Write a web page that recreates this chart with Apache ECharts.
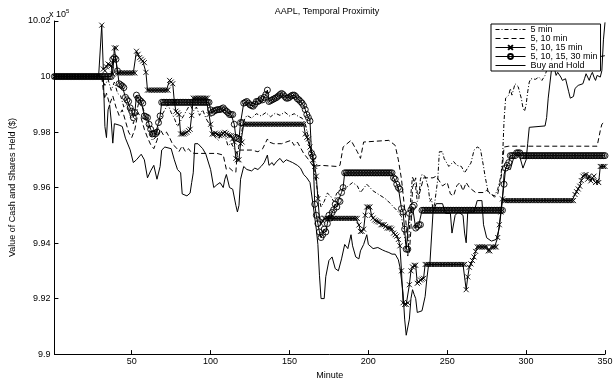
<!DOCTYPE html>
<html>
<head>
<meta charset="utf-8">
<title>AAPL, Temporal Proximity</title>
<script src="https://cdn.jsdelivr.net/npm/echarts@6.0.0/dist/echarts.min.js"></script>
<style>
  html, body { margin: 0; padding: 0; background: #fff; }
  #chart { width: 616px; height: 385px; }
</style>
</head>
<body>
<div id="chart"></div>
<script>
// values are in units of 10^5 dollars, as on the y axis
const xTicks = [50, 100, 150, 200, 250, 300, 350];

// "5 min" (dash-dot) and "5, 10 min" (dashed): [minute, value] vertices
const fiveMin = [
  [1,10],[31,10],[32,9.998],[33,9.9968],[35,9.999],[37,9.995],[39,9.998],[41,9.994],[43,9.993],[45,9.989],
  [47,9.990],[49,9.986],[51,9.983],[53,9.987],[55,9.992],[57,9.989],[59,9.985],[61,9.981],[63,9.977],[65,9.978],
  [67,9.982],[69,9.986],[71,9.988],[73,9.990],[75,9.987],[77,9.985],[79,9.982],[81,9.984],[83,9.986],[85,9.988],
  [87,9.990],[89,9.9875],[91,9.989],[93,9.986],[95,9.988],[97,9.985],[99,9.983],[101,9.980],[103,9.978],[105,9.977],
  [107,9.980],[109,9.979],[111,9.975],[113,9.976],[115,9.974],[117,9.972],[119,9.978],[121,9.984],[123,9.986],[126,9.985],
  [129,9.9866],[132,9.9858],[135,9.987],[138,9.9855],[141,9.9868],[144,9.986],[147,9.9872],[150,9.9858],[153,9.9866],[156,9.9855],
  [158,9.985],[160,9.983],[162,9.978],[164,9.972],[166,9.965],[168,9.958],[170,9.953],[172,9.955],[174,9.958],[176,9.957],
  [178,9.955],[180,9.958],[182,9.959],[186,9.960],[190,9.9618],[193,9.9606],[195,9.9582],[199,9.9612],[203,9.9588],[208,9.957],
  [211,9.9559],[214,9.9542],[216,9.953],[219,9.9512],[221,9.9495],[223,9.9419],[224,9.9395],[225,9.935],[226,9.945],[227,9.958],
  [228,9.964],[229,9.9647],[230,9.960],[231,9.955],[232,9.956],[233,9.963],[234,9.9647],[236,9.964],[237,9.9635],[238,9.960],
  [239,9.955],[240,9.956],[241,9.952],[242,9.9542],[244,9.963],[245,9.9729],[247,9.9729],[248,9.9705],[251,9.9676],[254,9.9694],
  [256,9.968],[259,9.9676],[261,9.9653],[262,9.965],[264,9.968],[265,9.9688],[267,9.9735],[269,9.9746],[271,9.974],[273,9.9676],
  [274,9.964],[276,9.9582],[278,9.9575],[280,9.957],[282,9.9594],[284,9.9641],[285,9.970],[286,9.984],[287,9.9922],[289,9.9933],
  [290,9.9957],[291,9.9933],[293,9.9974],[295,9.9963],[297,9.992],[298,9.9887],[299,9.9875],[300,9.9898],[301,9.9945],[302,9.998],
  [303,9.9992],[306,9.999],[308,9.9998],[310,9.9986],[312,10.0004],[314,10.004],[318,10.0055],[325,10.0065],[335,10.006],[345,10.007],
  [350,10.0075]
];

const fiveTenMin = [
  [1,10],[31,10],[32,9.995],[33,9.992],[34,9.994],[36,9.990],[38,9.993],[40,9.989],[42,9.986],[44,9.988],
  [46,9.984],[48,9.980],[50,9.978],[52,9.981],[54,9.987],[56,9.985],[58,9.981],[60,9.978],[62,9.9755],[64,9.974],
  [66,9.977],[68,9.981],[70,9.979],[72,9.980],[74,9.978],[76,9.9755],[78,9.9745],[80,9.973],[82,9.975],[84,9.973],
  [86,9.974],[88,9.9725],[90,9.9723],[104,9.9723],[108,9.9717],[110,9.9665],[112,9.967],[114,9.966],[116,9.9655],[117,9.9735],
  [126,9.9735],[130,9.9729],[133,9.974],[136,9.9775],[137,9.9764],[140,9.9758],[145,9.9758],[151,9.977],[153,9.9752],[155,9.9764],
  [159,9.9723],[163,9.9694],[165,9.9676],[170,9.968],[180,9.9676],[182,9.968],[184,9.9746],[189,9.977],[193,9.9729],[195,9.9705],
  [197,9.9764],[198,9.977],[213,9.977],[217,9.9752],[219,9.970],[221,9.963],[223,9.9524],[225,9.9407],[226,9.9366],[227,9.945],
  [228,9.960],[230,9.9635],[231,9.9582],[232,9.957],[235,9.9635],[241,9.9635],[243,9.9641],[247,9.9606],[250,9.9618],[252,9.9577],
  [254,9.957],[256,9.9606],[258,9.9618],[260,9.9588],[262,9.9618],[264,9.960],[268,9.9582],[273,9.9582],[275,9.959],[278,9.9577],
  [280,9.9565],[282,9.9577],[284,9.963],[285,9.9676],[286,9.9746],[287,9.9752],[289,9.9749],[345,9.9749],[347,9.9805],[348,9.9828],
  [350,9.9838]
];

// "5, 10, 15 min" (x markers), one value per minute 1..350
const fiveTenFifteen = [
  10,10,10,10,10,10,10,10,10,10,
  10,10,10,10,10,10,10,10,10,10,
  10,10,10,10,10,10,10,10,10,10,
  10.0185,10.0027,10.0021,10.0035,10.0045,10.0042,10.0039,10.0009,10.0103,10.0103,
  10.0013,10.0013,10.0013,10.0013,10.0013,10.0013,10.0013,10.0013,10.0013,10.0013,
  10.0013,10.0013,10.0091,10.0080,10.0068,10.0062,10.0056,10.0050,10.0015,9.9951,
  9.9951,9.9951,9.9951,9.9951,9.9951,9.9951,9.9951,9.9951,9.9951,9.9951,
  9.9951,9.9951,9.9951,9.9986,9.9980,9.9974,9.9910,9.9875,9.9869,9.9863,
  9.9793,9.9793,9.9793,9.9796,9.9799,9.9805,9.9810,9.9860,9.9922,9.9922,
  9.9922,9.9922,9.9922,9.9922,9.9922,9.9922,9.9922,9.9922,9.9863,9.9828,
  9.9793,9.9793,9.9796,9.9793,9.9790,9.9787,9.9790,9.9796,9.9799,9.9795,
  9.9790,9.9787,9.9787,9.9775,9.9764,9.9705,9.9700,9.9700,9.9758,9.9764,
  9.9828,9.9828,9.9828,9.9828,9.9828,9.9828,9.9828,9.9828,9.9828,9.9828,
  9.9828,9.9828,9.9828,9.9828,9.9828,9.9828,9.9828,9.9828,9.9828,9.9828,
  9.9828,9.9828,9.9828,9.9828,9.9828,9.9828,9.9828,9.9828,9.9828,9.9828,
  9.9828,9.9828,9.9828,9.9828,9.9828,9.9828,9.9828,9.9828,9.9828,9.9793,
  9.9781,9.9775,9.9746,9.9723,9.9700,9.9676,9.9641,9.9560,9.9490,9.9470,
  9.9480,9.9489,9.9489,9.9489,9.9489,9.9489,9.9489,9.9489,9.9489,9.9489,
  9.9489,9.9489,9.9489,9.9489,9.9489,9.9489,9.9489,9.9489,9.9489,9.9489,
  9.9489,9.9489,9.9489,9.9465,9.9442,9.9442,9.9450,9.9500,9.9530,9.9530,
  9.9530,9.9500,9.9490,9.9483,9.9480,9.9477,9.9475,9.9466,9.9466,9.9466,
  9.9460,9.9454,9.9454,9.9454,9.9450,9.9436,9.9430,9.9425,9.9413,9.9390,
  9.9300,9.9185,9.9179,9.9179,9.9185,9.9250,9.9300,9.9314,9.9320,9.9320,
  9.9255,9.9260,9.9267,9.9270,9.9273,9.9323,9.9323,9.9323,9.9323,9.9323,
  9.9323,9.9323,9.9323,9.9323,9.9323,9.9323,9.9323,9.9323,9.9323,9.9323,
  9.9323,9.9323,9.9323,9.9323,9.9323,9.9323,9.9323,9.9323,9.9323,9.9323,
  9.9323,9.9232,9.9278,9.9313,9.9325,9.9337,9.9350,9.9370,9.9386,9.9386,
  9.9386,9.9386,9.9386,9.9386,9.9386,9.9372,9.9372,9.9386,9.9386,9.9386,
  9.9386,9.9420,9.9466,9.9512,9.9559,9.9553,9.9553,9.9553,9.9553,9.9553,
  9.9553,9.9553,9.9553,9.9553,9.9553,9.9553,9.9553,9.9553,9.9553,9.9553,
  9.9553,9.9553,9.9553,9.9553,9.9553,9.9553,9.9553,9.9553,9.9553,9.9553,
  9.9553,9.9553,9.9553,9.9553,9.9553,9.9553,9.9553,9.9553,9.9553,9.9553,
  9.9553,9.9553,9.9553,9.9553,9.9553,9.9553,9.9553,9.9553,9.9553,9.9553,
  9.9575,9.9585,9.9595,9.9605,9.9625,9.9641,9.9645,9.9647,9.9630,9.9641,
  9.9624,9.9635,9.9641,9.9618,9.9624,9.9618,9.9676,9.9676,9.9676,9.9676
];

// "5, 10, 15, 30 min" (circle markers), one value per minute 1..350
const fiveToThirty = [
  10,10,10,10,10,10,10,10,10,10,
  10,10,10,10,10,10,10,10,10,10,
  10,10,10,10,10,10,10,10,10,10,
  10,10,10,10,10,10,10,10.0062,10.0068,10.0062,
  10.0020,9.9974,9.9970,9.9966,9.9960,9.9925,9.9916,9.9910,9.9887,9.9875,
  9.9852,9.9870,9.9933,9.9922,9.9915,9.9910,9.9904,9.9858,9.9855,9.9852,
  9.9828,9.9810,9.9793,9.9795,9.9793,9.9800,9.9834,9.9858,9.9907,9.9907,
  9.9907,9.9907,9.9907,9.9907,9.9907,9.9907,9.9907,9.9907,9.9907,9.9907,
  9.9907,9.9907,9.9907,9.9907,9.9907,9.9907,9.9907,9.9907,9.9907,9.9907,
  9.9907,9.9907,9.9907,9.9907,9.9907,9.9907,9.9907,9.9907,9.9907,9.9880,
  9.9870,9.9875,9.9878,9.9880,9.9881,9.9881,9.9884,9.9887,9.9880,9.9875,
  9.9870,9.9863,9.9863,9.9863,9.9828,9.9781,9.9778,9.9775,9.9834,9.9834,
  9.9904,9.9907,9.9910,9.9904,9.9898,9.9895,9.9893,9.9900,9.9910,9.9910,
  9.9913,9.9920,9.9916,9.9925,9.9935,9.9951,9.9910,9.9913,9.9916,9.9919,
  9.9922,9.9925,9.9930,9.9935,9.9939,9.9935,9.9928,9.9922,9.9922,9.9925,
  9.9930,9.9933,9.9933,9.9928,9.9920,9.9916,9.9910,9.9904,9.9895,9.9881,
  9.9863,9.9852,9.9840,9.9723,9.9711,9.9540,9.9500,9.9470,9.9440,9.9420,
  9.9430,9.9450,9.9440,9.9470,9.9500,9.9490,9.9510,9.9520,9.9540,9.9530,
  9.9553,9.9550,9.9582,9.9600,9.9653,9.9653,9.9653,9.9653,9.9653,9.9653,
  9.9653,9.9653,9.9653,9.9653,9.9653,9.9653,9.9653,9.9653,9.9653,9.9653,
  9.9653,9.9653,9.9653,9.9653,9.9653,9.9653,9.9653,9.9653,9.9653,9.9653,
  9.9653,9.9653,9.9653,9.9653,9.9653,9.9635,9.9630,9.9612,9.9600,9.9594,
  9.9524,9.9512,9.9450,9.9378,9.9378,9.9507,9.9520,9.9530,9.9536,9.9454,
  9.9460,9.9466,9.9466,9.9518,9.9518,9.9518,9.9518,9.9518,9.9518,9.9518,
  9.9518,9.9518,9.9518,9.9518,9.9518,9.9518,9.9518,9.9518,9.9518,9.9518,
  9.9518,9.9518,9.9518,9.9518,9.9518,9.9518,9.9518,9.9518,9.9518,9.9518,
  9.9518,9.9518,9.9518,9.9518,9.9518,9.9518,9.9518,9.9518,9.9518,9.9518,
  9.9518,9.9518,9.9518,9.9518,9.9518,9.9518,9.9518,9.9518,9.9518,9.9518,
  9.9518,9.9518,9.9518,9.9518,9.9518,9.9612,9.9670,9.9680,9.9690,9.9715,
  9.9715,9.9715,9.9715,9.9725,9.9725,9.9725,9.9715,9.9715,9.9715,9.9715,
  9.9715,9.9715,9.9715,9.9715,9.9715,9.9715,9.9715,9.9715,9.9715,9.9715,
  9.9715,9.9715,9.9715,9.9715,9.9715,9.9715,9.9715,9.9715,9.9715,9.9715,
  9.9715,9.9715,9.9715,9.9715,9.9715,9.9715,9.9715,9.9715,9.9715,9.9715,
  9.9715,9.9715,9.9715,9.9715,9.9715,9.9715,9.9715,9.9715,9.9715,9.9715,
  9.9715,9.9715,9.9715,9.9715,9.9715,9.9715,9.9715,9.9715,9.9715,9.9715
];

// "Buy and Hold": [minute, value] vertices
const buyAndHold = [
  [1,10],[32,10],[33,9.982],[34,9.978],[35,9.988],[36,9.9898],[37,9.984],[38,9.976],[39,9.983],[40,9.9828],
  [42,9.9825],[44,9.982],[46,9.9778],[49,9.9736],[51,9.969],[53,9.970],[56,9.972],[58,9.970],[60,9.9635],[62,9.966],
  [64,9.968],[66,9.963],[68,9.9676],[69,9.9735],[71,9.9746],[75,9.974],[77,9.970],[79,9.9665],[81,9.9653],[82,9.9577],
  [85,9.957],[87,9.958],[88,9.9618],[89,9.9653],[90,9.9758],[92,9.9758],[95,9.974],[97,9.972],[100,9.9665],[102,9.960],
  [104,9.961],[106,9.9618],[108,9.960],[109,9.963],[110,9.9647],[112,9.960],[114,9.9594],[116,9.9536],[117,9.9512],[118,9.9536],
  [119,9.963],[121,9.9676],[123,9.9665],[126,9.966],[128,9.967],[130,9.9665],[132,9.9676],[134,9.969],[136,9.9717],[137,9.968],
  [139,9.969],[140,9.968],[142,9.9695],[144,9.9705],[146,9.969],[148,9.970],[150,9.9695],[152,9.969],[155,9.968],[157,9.967],
  [159,9.9647],[161,9.9635],[163,9.9618],[165,9.9536],[167,9.945],[168,9.9395],[169,9.9284],[170,9.920],[172,9.920],[173,9.9279],
  [175,9.9337],[177,9.935],[179,9.9308],[181,9.930],[183,9.9343],[185,9.9395],[187,9.938],[189,9.943],[190,9.939],[192,9.935],
  [194,9.9343],[195,9.9372],[197,9.9395],[199,9.943],[200,9.9395],[203,9.938],[206,9.9384],[209,9.9375],[211,9.937],[213,9.9366],
  [215,9.936],[217,9.936],[219,9.934],[220,9.9314],[222,9.922],[223,9.9126],[224,9.9068],[225,9.9068],[226,9.9126],[227,9.920],
  [228,9.9232],[229,9.9215],[230,9.920],[231,9.915],[232,9.9144],[234,9.9156],[235,9.916],[236,9.9208],[237,9.9267],[238,9.9314],
  [239,9.9325],[240,9.933],[241,9.9512],[243,9.9542],[247,9.9542],[249,9.9507],[252,9.9507],[253,9.9436],[254,9.943],[255,9.950],
  [257,9.9512],[260,9.950],[261,9.9436],[262,9.9401],[263,9.9512],[267,9.9512],[269,9.9553],[272,9.9553],[273,9.9466],[275,9.9419],
  [278,9.9407],[281,9.9413],[283,9.9454],[285,9.9559],[286,9.9647],[287,9.967],[290,9.9665],[292,9.9705],[295,9.9729],[296,9.9711],
  [298,9.967],[299,9.9665],[300,9.970],[301,9.9758],[302,9.9817],[303,9.9822],[312,9.9822],[313,9.9852],[314,9.9922],[316,10.0021],
  [318,10.0027],[319,10.0004],[320,10.0015],[322,9.9998],[323,9.9986],[325,9.9992],[327,9.9945],[328,9.9922],[330,9.9928],[331,9.9957],
  [333,9.9968],[336,9.9974],[337,9.9992],[338,10.001],[339,9.9998],[340,9.9986],[341,10.0004],[342,10.0015],[343,9.9998],[344,9.9986],
  [345,10.0004],[347,9.9998],[348,10.0021],[349,10.0132],[350,10.0195]
];

const FONT = '"Liberation Sans", Arial, Helvetica, sans-serif';
const X_MARK = 'path://M0,0L10,10M0,10L10,0';
const DASH_DOT = [4, 2, 1, 2];
const DASHED = [5, 3];

const chart = echarts.init(document.getElementById('chart'), null, { renderer: 'canvas' });

const byMinute = arr => arr.map((v, i) => [i + 1, v]);

const markerStyle = { color: 'rgba(0,0,0,0)', borderColor: '#000', borderWidth: 0.9 };

// legend rows: hide the symbol for plain lines, keep thin strokes
const noMark = { opacity: 0 };
const legendData = [
  { name: '5 min', itemStyle: noMark, lineStyle: { width: 1, type: DASH_DOT, color: '#000' } },
  { name: '5, 10 min', itemStyle: noMark, lineStyle: { width: 1, type: DASHED, color: '#000' } },
  { name: '5, 10, 15 min', lineStyle: { width: 1, type: 'solid', color: '#000' } },
  { name: '5, 10, 15, 30 min', lineStyle: { width: 1, type: 'solid', color: '#000' } },
  { name: 'Buy and Hold', itemStyle: noMark, lineStyle: { width: 1, type: 'solid', color: '#000' } }
];

const option = {
  animation: false,
  backgroundColor: '#fff',
  textStyle: { fontFamily: FONT, color: '#000' },
  grid: { left: 49, right: 11, top: 21, bottom: 23, containLabel: false },
  graphic: [
    { type: 'text', x: 327, y: 12, style: { text: 'AAPL, Temporal Proximity', font: '9px ' + FONT, fill: '#000', textAlign: 'center', textVerticalAlign: 'middle' } },
    { type: 'text', x: 49, y: 15, style: { text: 'x 10', font: '9px ' + FONT, fill: '#000', textAlign: 'left', textVerticalAlign: 'middle' } },
    { type: 'text', x: 66, y: 11, style: { text: '5', font: '6px ' + FONT, fill: '#000', textAlign: 'left', textVerticalAlign: 'middle' } }
  ],
  legend: {
    orient: 'vertical',
    left: 491,
    top: 24,
    backgroundColor: '#fff',
    borderColor: '#000',
    borderWidth: 1,
    borderRadius: 0,
    padding: [1, 3, 1, 4],
    itemWidth: 30,
    itemHeight: 6,
    itemGap: 0,
    selectedMode: false,
    textStyle: { fontFamily: FONT, fontSize: 9, color: '#000', lineHeight: 9 },
    data: legendData
  },
  xAxis: {
    type: 'value',
    min: 1,
    max: 350,
    name: 'Minute',
    nameLocation: 'middle',
    nameGap: 11,
    nameTextStyle: { fontFamily: FONT, fontSize: 9, color: '#000' },
    axisLine: { lineStyle: { color: '#000', width: 1 } },
    axisTick: { inside: true, length: 4, customValues: xTicks, lineStyle: { color: '#000' } },
    axisLabel: { customValues: xTicks, margin: 3, fontFamily: FONT, fontSize: 9, color: '#000' },
    splitLine: { show: false }
  },
  yAxis: {
    type: 'value',
    min: 9.9,
    max: 10.02,
    interval: 0.02,
    name: 'Value of Cash and Shares Held ($)',
    nameLocation: 'middle',
    nameGap: 33,
    nameTextStyle: { fontFamily: FONT, fontSize: 9, color: '#000' },
    axisLine: { show: true, lineStyle: { color: '#000', width: 1 } },
    axisTick: { show: true, inside: true, length: 4, lineStyle: { color: '#000' } },
    axisLabel: { margin: 4, fontFamily: FONT, fontSize: 9, color: '#000', formatter: v => String(+v.toFixed(2)) },
    splitLine: { show: false }
  },
  series: [
    {
      name: '5 min', type: 'line', data: fiveMin, symbol: 'none',
      lineStyle: { color: '#000', width: 1, type: DASH_DOT }, itemStyle: { color: '#000' }
    },
    {
      name: '5, 10 min', type: 'line', data: fiveTenMin, symbol: 'none',
      lineStyle: { color: '#000', width: 1, type: DASHED }, itemStyle: { color: '#000' }
    },
    {
      name: '5, 10, 15 min', type: 'line', data: byMinute(fiveTenFifteen),
      symbol: X_MARK, symbolSize: 5, showAllSymbol: true,
      lineStyle: { color: '#000', width: 1 }, itemStyle: markerStyle
    },
    {
      name: '5, 10, 15, 30 min', type: 'line', data: byMinute(fiveToThirty),
      symbol: 'circle', symbolSize: 6, showAllSymbol: true,
      lineStyle: { color: '#000', width: 1 }, itemStyle: markerStyle
    },
    {
      name: 'Buy and Hold', type: 'line', data: buyAndHold, symbol: 'none',
      lineStyle: { color: '#000', width: 1 }, itemStyle: { color: '#000' }
    }
  ]
};

chart.setOption(option);
</script>
</body>
</html>
